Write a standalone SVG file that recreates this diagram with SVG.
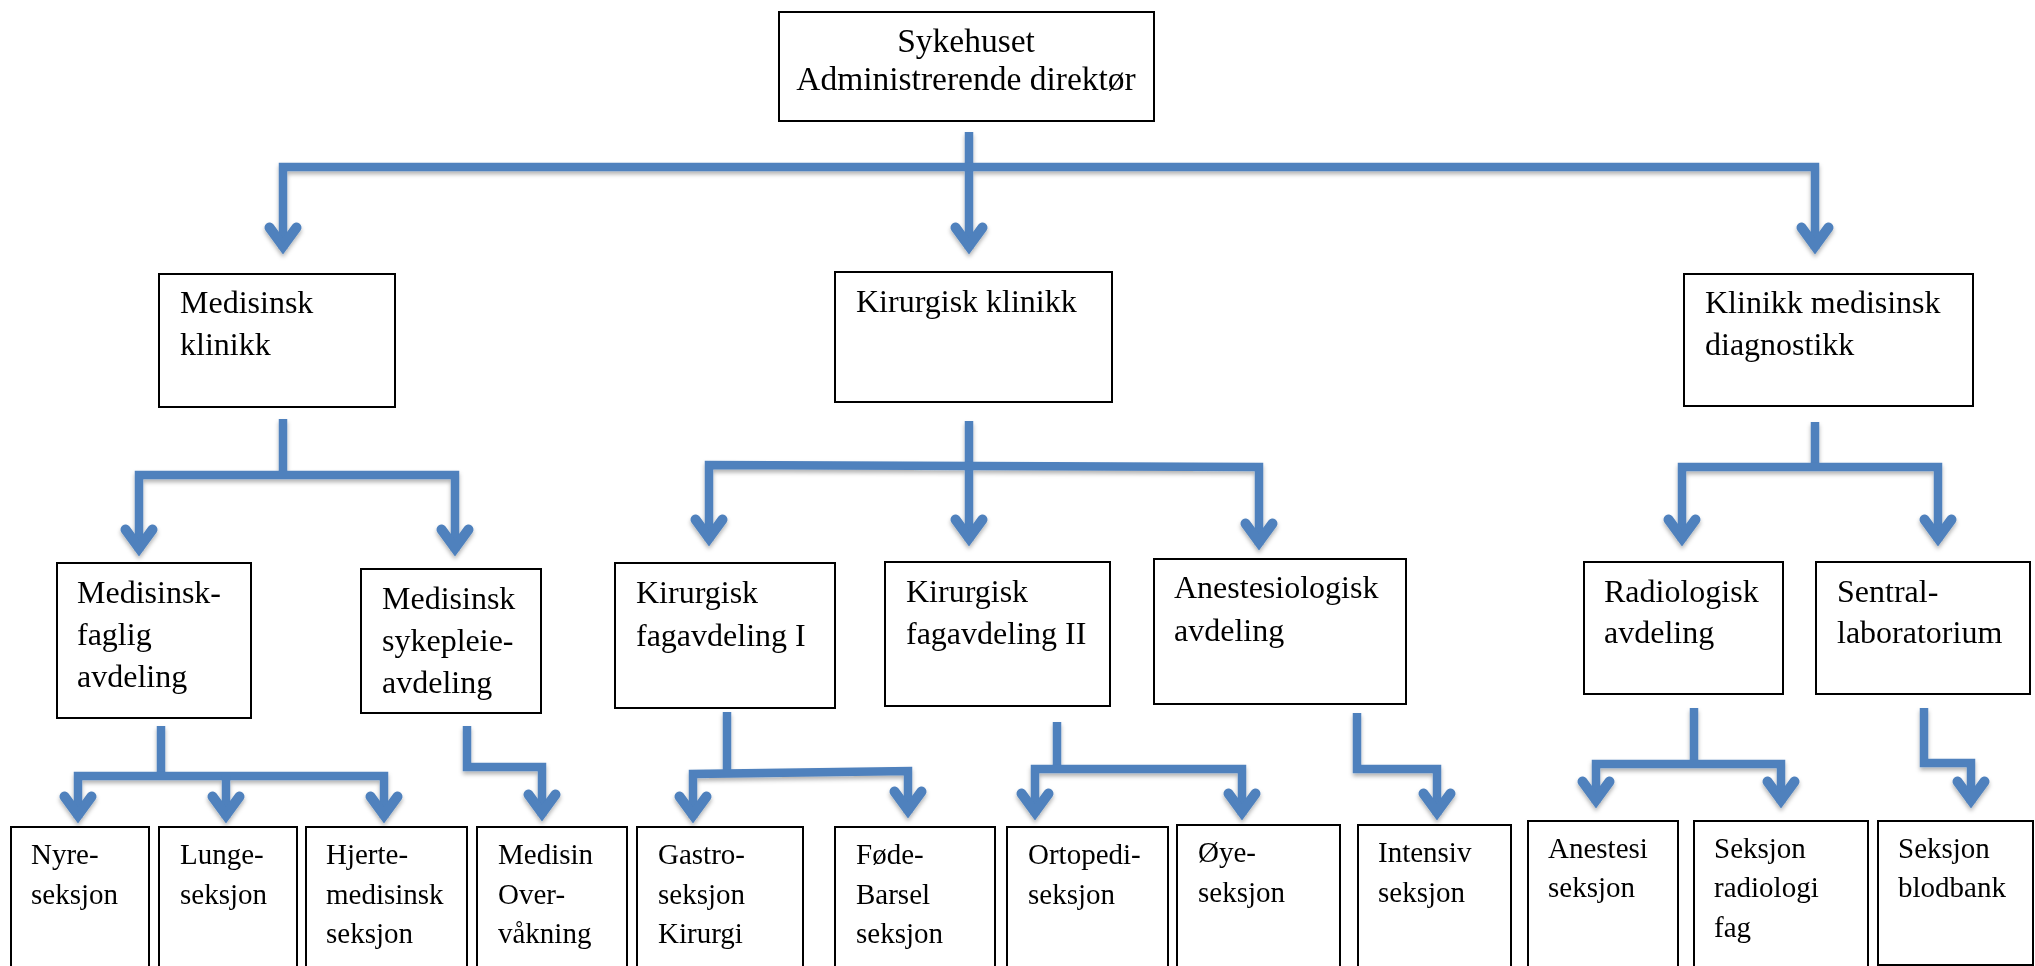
<svg xmlns="http://www.w3.org/2000/svg" width="2035" height="966" viewBox="0 0 2035 966">
  <defs>
    <style>
      .box { fill: #ffffff; stroke: #000000; stroke-width: 2; }
      .t { font-family: "Liberation Serif", "Times New Roman", serif; font-size: 32px; fill: #000000; }
      .top { font-size: 33.5px; }
      .s { font-family: "Liberation Serif", "Times New Roman", serif; font-size: 29px; fill: #000000; }
      .c { text-anchor: middle; }
      .ln { fill: none; stroke: #4F81BD; stroke-width: 8.5; stroke-linejoin: miter; stroke-linecap: butt; }
      .hd { fill: none; stroke: #4F81BD; stroke-width: 10; stroke-linejoin: miter; stroke-linecap: round; }
    </style>
    <filter id="shadow" x="-10%" y="-10%" width="120%" height="130%">
      <feDropShadow dx="0" dy="3" stdDeviation="2" flood-color="#000000" flood-opacity="0.3"/>
    </filter>
    <!-- open arrowhead, tip at the origin pointing down -->
    <path id="head" class="hd" d="M-13.5,-28.5 L0,-10 L13.5,-28.5"/>
  </defs>

  <rect width="2035" height="966" fill="#ffffff"/>

  <g id="connectors" filter="url(#shadow)">
    <!-- director to clinics -->
    <path class="ln" d="M969,132 V249"/>
    <path class="ln" d="M283,249 V167 H1815 V249"/>
    <use href="#head" x="283" y="256"/>
    <use href="#head" x="969" y="256"/>
    <use href="#head" x="1815" y="256"/>

    <!-- Medisinsk klinikk -->
    <path class="ln" d="M283,419 V475"/>
    <path class="ln" d="M139,551 V475 H455 V551"/>
    <use href="#head" x="139" y="558"/>
    <use href="#head" x="455" y="558"/>

    <!-- Kirurgisk klinikk -->
    <path class="ln" d="M969,421 V541"/>
    <path class="ln" d="M709,541 V465 L1259,467 V545"/>
    <use href="#head" x="709" y="548"/>
    <use href="#head" x="969" y="548"/>
    <use href="#head" x="1259" y="552"/>

    <!-- Klinikk medisinsk diagnostikk -->
    <path class="ln" d="M1815,422 V467"/>
    <path class="ln" d="M1682,541 V467 H1938 V541"/>
    <use href="#head" x="1682" y="548"/>
    <use href="#head" x="1938" y="548"/>

    <!-- Medisinsk-faglig avdeling -->
    <path class="ln" d="M161,726 V776"/>
    <path class="ln" d="M78,818 V776 H384 V818"/>
    <path class="ln" d="M226,776 V818"/>
    <use href="#head" x="78" y="825"/>
    <use href="#head" x="226" y="825"/>
    <use href="#head" x="384" y="825"/>

    <!-- Medisinsk sykepleie-avdeling -->
    <path class="ln" d="M467,726 V767 H542 V816"/>
    <use href="#head" x="542" y="823"/>

    <!-- Kirurgisk fagavdeling I -->
    <path class="ln" d="M727,712 V773"/>
    <path class="ln" d="M693,818 V774 L908,771 V813"/>
    <use href="#head" x="693" y="825"/>
    <use href="#head" x="908" y="820"/>

    <!-- Kirurgisk fagavdeling II -->
    <path class="ln" d="M1057,722 V769"/>
    <path class="ln" d="M1035,815 V769 H1242 V815"/>
    <use href="#head" x="1035" y="822"/>
    <use href="#head" x="1242" y="822"/>

    <!-- Anestesiologisk avdeling -->
    <path class="ln" d="M1357,713 V769 H1437 V815"/>
    <use href="#head" x="1437" y="822"/>

    <!-- Radiologisk avdeling -->
    <path class="ln" d="M1694,708 V764"/>
    <path class="ln" d="M1596,803 V764 H1781 V803"/>
    <use href="#head" x="1596" y="810"/>
    <use href="#head" x="1781" y="810"/>

    <!-- Sentral-laboratorium -->
    <path class="ln" d="M1924,708 V763 H1971 V803"/>
    <use href="#head" x="1971" y="810"/>
  </g>

  <!-- level 1 -->
  <g id="sykehuset">
    <rect class="box" x="779" y="12" width="375" height="109"/>
    <text class="t top c" x="966" y="52">Sykehuset</text>
    <text class="t top c" x="966" y="90">Administrerende direktør</text>
  </g>

  <!-- level 2 -->
  <g id="medisinsk-klinikk">
    <rect class="box" x="159" y="274" width="236" height="133"/>
    <text class="t" x="180" y="313">Medisinsk</text>
    <text class="t" x="180" y="355">klinikk</text>
  </g>
  <g id="kirurgisk-klinikk">
    <rect class="box" x="835" y="272" width="277" height="130"/>
    <text class="t" x="856" y="312">Kirurgisk klinikk</text>
  </g>
  <g id="klinikk-medisinsk-diagnostikk">
    <rect class="box" x="1684" y="274" width="289" height="132"/>
    <text class="t" x="1705" y="313">Klinikk medisinsk</text>
    <text class="t" x="1705" y="355">diagnostikk</text>
  </g>

  <!-- level 3 -->
  <g id="medisinsk-faglig-avdeling">
    <rect class="box" x="57" y="563" width="194" height="155"/>
    <text class="t" x="77" y="603">Medisinsk-</text>
    <text class="t" x="77" y="645">faglig</text>
    <text class="t" x="77" y="687">avdeling</text>
  </g>
  <g id="medisinsk-sykepleie-avdeling">
    <rect class="box" x="361" y="569" width="180" height="144"/>
    <text class="t" x="382" y="609">Medisinsk</text>
    <text class="t" x="382" y="651">sykepleie-</text>
    <text class="t" x="382" y="693">avdeling</text>
  </g>
  <g id="kirurgisk-fagavdeling-1">
    <rect class="box" x="615" y="563" width="220" height="145"/>
    <text class="t" x="636" y="603">Kirurgisk</text>
    <text class="t" x="636" y="646">fagavdeling I</text>
  </g>
  <g id="kirurgisk-fagavdeling-2">
    <rect class="box" x="885" y="562" width="225" height="144"/>
    <text class="t" x="906" y="602">Kirurgisk</text>
    <text class="t" x="906" y="644">fagavdeling II</text>
  </g>
  <g id="anestesiologisk-avdeling">
    <rect class="box" x="1154" y="559" width="252" height="145"/>
    <text class="t" x="1174" y="598">Anestesiologisk</text>
    <text class="t" x="1174" y="641">avdeling</text>
  </g>
  <g id="radiologisk-avdeling">
    <rect class="box" x="1584" y="562" width="199" height="132"/>
    <text class="t" x="1604" y="602">Radiologisk</text>
    <text class="t" x="1604" y="643">avdeling</text>
  </g>
  <g id="sentrallaboratorium">
    <rect class="box" x="1816" y="562" width="214" height="132"/>
    <text class="t" x="1837" y="602">Sentral-</text>
    <text class="t" x="1837" y="643">laboratorium</text>
  </g>

  <!-- level 4 -->
  <g id="nyreseksjon">
    <rect class="box" x="11" y="827" width="138" height="145"/>
    <text class="s" x="31" y="864">Nyre-</text>
    <text class="s" x="31" y="904">seksjon</text>
  </g>
  <g id="lungeseksjon">
    <rect class="box" x="159" y="827" width="138" height="145"/>
    <text class="s" x="180" y="864">Lunge-</text>
    <text class="s" x="180" y="904">seksjon</text>
  </g>
  <g id="hjertemedisinsk-seksjon">
    <rect class="box" x="306" y="827" width="161" height="145"/>
    <text class="s" x="326" y="864">Hjerte-</text>
    <text class="s" x="326" y="904">medisinsk</text>
    <text class="s" x="326" y="943">seksjon</text>
  </g>
  <g id="medisin-overvakning">
    <rect class="box" x="477" y="827" width="150" height="145"/>
    <text class="s" x="498" y="864">Medisin</text>
    <text class="s" x="498" y="904">Over-</text>
    <text class="s" x="498" y="943">våkning</text>
  </g>
  <g id="gastroseksjon-kirurgi">
    <rect class="box" x="637" y="827" width="166" height="145"/>
    <text class="s" x="658" y="864">Gastro-</text>
    <text class="s" x="658" y="904">seksjon</text>
    <text class="s" x="658" y="943">Kirurgi</text>
  </g>
  <g id="fode-barsel-seksjon">
    <rect class="box" x="835" y="827" width="160" height="145"/>
    <text class="s" x="856" y="864">Føde-</text>
    <text class="s" x="856" y="904">Barsel</text>
    <text class="s" x="856" y="943">seksjon</text>
  </g>
  <g id="ortopediseksjon">
    <rect class="box" x="1007" y="827" width="161" height="145"/>
    <text class="s" x="1028" y="864">Ortopedi-</text>
    <text class="s" x="1028" y="904">seksjon</text>
  </g>
  <g id="oyeseksjon">
    <rect class="box" x="1177" y="825" width="163" height="147"/>
    <text class="s" x="1198" y="862">Øye-</text>
    <text class="s" x="1198" y="902">seksjon</text>
  </g>
  <g id="intensivseksjon">
    <rect class="box" x="1358" y="825" width="153" height="147"/>
    <text class="s" x="1378" y="862">Intensiv</text>
    <text class="s" x="1378" y="902">seksjon</text>
  </g>
  <g id="anestesiseksjon">
    <rect class="box" x="1528" y="821" width="150" height="151"/>
    <text class="s" x="1548" y="858">Anestesi</text>
    <text class="s" x="1548" y="897">seksjon</text>
  </g>
  <g id="seksjon-radiologi-fag">
    <rect class="box" x="1694" y="821" width="174" height="151"/>
    <text class="s" x="1714" y="858">Seksjon</text>
    <text class="s" x="1714" y="897">radiologi</text>
    <text class="s" x="1714" y="937">fag</text>
  </g>
  <g id="seksjon-blodbank">
    <rect class="box" x="1878" y="821" width="155" height="144"/>
    <text class="s" x="1898" y="858">Seksjon</text>
    <text class="s" x="1898" y="897">blodbank</text>
  </g>
</svg>
